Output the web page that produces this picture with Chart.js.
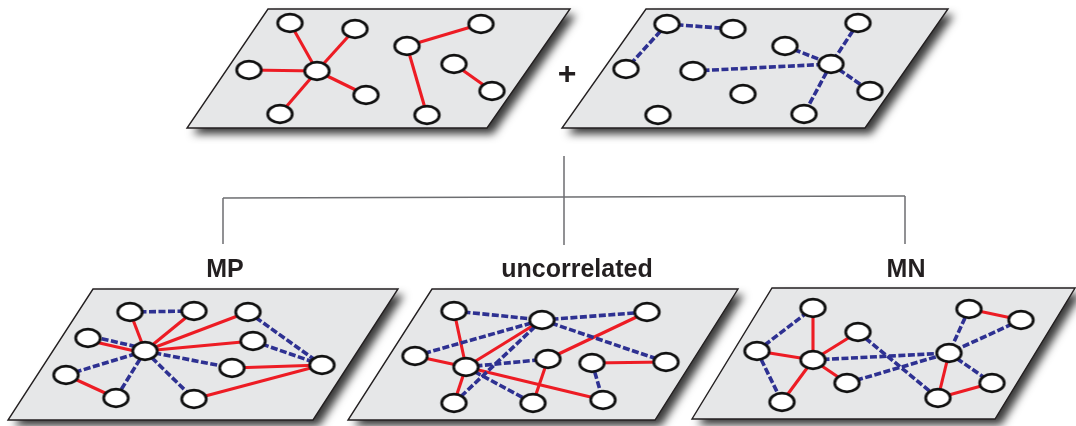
<!DOCTYPE html>
<html lang="en">
<head>
  <meta charset="UTF-8">
  <title>Multiplex network layers</title>
  <script src="https://cdn.jsdelivr.net/npm/chart.js"></script>
  <style>
    html, body { margin: 0; padding: 0; background: #ffffff; }
    #wrap { width: 1076px; height: 426px; }
  </style>
</head>
<body>
<div id="wrap"><canvas id="chartNet" width="1076" height="426"></canvas></div>

<script>
  // panel outlines (top-left, top-right, bottom-right, bottom-left)
  const panelRed   = [[268, 9], [570, 9], [487, 128], [187, 128]];
  const panelBlue  = [[646, 9], [948, 9], [865, 128], [562, 128]];
  const panelMP    = [[93, 289], [398, 289], [313, 420], [8, 420]];
  const panelUnc   = [[432, 289], [738, 289], [655, 420], [348, 420]];
  const panelMN    = [[772, 288], [1075, 288], [995, 419], [692, 419]];

  // node positions per panel
  const nodesRed  = [[290, 23], [355, 29], [249, 70], [317, 71], [366, 95], [280, 114], [407, 46], [481, 24], [454, 64], [492, 91], [427, 115]];
  const nodesBlue = [[667, 24], [733, 29], [626, 69], [693, 71], [785, 46], [858, 23], [831, 64], [870, 91], [743, 94], [658, 115], [804, 114]];
  const nodesMP   = [[130, 312], [194, 311], [248, 312], [88, 338], [253, 341], [145, 351], [322, 365], [232, 368], [66, 375], [116, 398], [194, 399]];
  const nodesUnc  = [[454, 311], [542, 320], [647, 312], [415, 356], [466, 367], [548, 359], [592, 363], [666, 362], [454, 403], [533, 403], [603, 400]];
  const nodesMN   = [[813, 308], [757, 351], [813, 360], [858, 332], [847, 383], [782, 402], [969, 309], [1021, 320], [949, 353], [992, 383], [938, 398]];

  // edges as node index pairs (red = solid layer, blue = dashed layer)
  const redEdgesTop  = [[3, 0], [3, 1], [3, 2], [3, 4], [3, 5], [6, 7], [6, 10], [8, 9]];
  const blueEdgesTop = [[0, 1], [0, 2], [3, 6], [4, 6], [5, 6], [6, 7], [6, 10]];
  const redEdgesMP   = [[5, 0], [5, 1], [5, 2], [5, 3], [5, 4], [8, 9], [7, 6], [10, 6]];
  const blueEdgesMP  = [[0, 1], [2, 6], [4, 6], [5, 3], [5, 8], [5, 9], [5, 7], [5, 10]];
  const redEdgesUnc  = [[0, 4], [3, 4], [4, 1], [4, 8], [5, 2], [5, 9], [4, 10], [6, 7]];
  const blueEdgesUnc = [[0, 1], [1, 2], [1, 7], [3, 1], [1, 8], [4, 5], [4, 9], [6, 10]];
  const redEdgesMN   = [[0, 2], [1, 2], [2, 3], [2, 4], [2, 5], [6, 7], [8, 10], [10, 9]];
  const blueEdgesMN  = [[1, 0], [1, 5], [2, 8], [4, 8], [3, 10], [6, 8], [7, 8], [8, 9]];

  // tree connecting the two layers to the three combinations
  const treeStem   = [[564, 156], [564, 245]];
  const treeBar    = [[223, 198], [905, 196]];
  const treeLeft   = [[223, 198], [223, 244]];
  const treeRight  = [[905, 196], [905, 244]];

  const labelText = ['MP', 'uncorrelated', 'MN'];
  const labelX    = [225, 577, 906];
  const labelY    = 277;

  const RED = '#ed1c24';
  const BLUE = '#2e3192';

  // white ellipse with black rim used as point style
  function makeNode(rx, ry) {
    const c = document.createElement('canvas');
    c.width = Math.ceil(rx * 2 + 6);
    c.height = Math.ceil(ry * 2 + 6);
    const g = c.getContext('2d');
    g.beginPath();
    g.ellipse(c.width / 2, c.height / 2, rx, ry, 0, 0, Math.PI * 2);
    g.fillStyle = '#ffffff';
    g.fill();
    g.lineWidth = 2.8;
    g.strokeStyle = '#111111';
    g.stroke();
    return c;
  }
  const nodeImg = makeNode(12.3, 8.8);

  const toPts = arr => arr.map(p => ({ x: p[0], y: p[1] }));

  function edgeSets(nodes, pairs, color, dashed, other) {
    return pairs.map(([a, b]) => {
      let p = nodes[a], q = nodes[b];
      // pairs linked in both layers are drawn side by side
      const twin = other.some(([c, d]) => (c === a && d === b) || (c === b && d === a));
      if (twin) {
        const dx = q[0] - p[0], dy = q[1] - p[1];
        const len = Math.hypot(dx, dy);
        const s = dashed ? 2.3 : -2.3;
        const ox = -dy / len * s, oy = dx / len * s;
        p = [p[0] + ox, p[1] + oy];
        q = [q[0] + ox, q[1] + oy];
      }
      return {
        data: toPts([p, q]),
        showLine: true,
        borderColor: color,
        borderWidth: dashed ? 3.6 : 3.1,
        borderDash: dashed ? [7, 2.5] : [],
        borderCapStyle: 'butt',
        pointRadius: 0,
        order: dashed ? 2 : 3
      };
    });
  }

  function treeSet(seg) {
    return {
      data: toPts(seg),
      showLine: true,
      borderColor: '#6d6e71',
      borderWidth: 1.5,
      pointRadius: 0,
      order: 5
    };
  }

  const layers = [
    [nodesRed, redEdgesTop, []],
    [nodesBlue, [], blueEdgesTop],
    [nodesMP, redEdgesMP, blueEdgesMP],
    [nodesUnc, redEdgesUnc, blueEdgesUnc],
    [nodesMN, redEdgesMN, blueEdgesMN]
  ];

  const datasets = [];
  [treeStem, treeBar, treeLeft, treeRight].forEach(s => datasets.push(treeSet(s)));
  layers.forEach(([nodes, red, blue]) => {
    datasets.push(...edgeSets(nodes, red, RED, false, blue));
    datasets.push(...edgeSets(nodes, blue, BLUE, true, red));
    datasets.push({
      data: toPts(nodes),
      pointStyle: nodeImg,
      pointRadius: 12,
      showLine: false,
      order: 0
    });
  });

  const panels = [panelRed, panelBlue, panelMP, panelUnc, panelMN];

  const panelPlugin = {
    id: 'panels',
    beforeDatasetsDraw(chart) {
      const { ctx, scales: { x, y } } = chart;
      panels.forEach(p => {
        ctx.save();
        ctx.beginPath();
        p.forEach(([px, py], i) => {
          const X = x.getPixelForValue(px), Y = y.getPixelForValue(py);
          if (i) ctx.lineTo(X, Y); else ctx.moveTo(X, Y);
        });
        ctx.closePath();
        ctx.shadowColor = 'rgba(0,0,0,0.78)';
        ctx.shadowBlur = 8;
        ctx.shadowOffsetX = 6;
        ctx.shadowOffsetY = 6;
        ctx.fillStyle = '#e6e7e8';
        ctx.fill();
        ctx.shadowColor = 'transparent';
        ctx.lineWidth = 1.4;
        ctx.strokeStyle = '#231f20';
        ctx.stroke();
        ctx.restore();
      });
    },
    afterDatasetsDraw(chart) {
      const { ctx, scales: { x, y } } = chart;
      ctx.save();
      ctx.fillStyle = '#231f20';
      ctx.textAlign = 'center';
      ctx.textBaseline = 'alphabetic';
      ctx.font = 'bold 25px "Liberation Sans", Arial, sans-serif';
      labelText.forEach((t, i) => {
        ctx.fillText(t, x.getPixelForValue(labelX[i]), y.getPixelForValue(labelY));
      });
      ctx.font = 'bold 32px "Liberation Sans", Arial, sans-serif';
      ctx.fillText('+', x.getPixelForValue(567), y.getPixelForValue(84));
      ctx.restore();
    }
  };

  new Chart(document.getElementById('chartNet'), {
    type: 'scatter',
    data: { datasets: datasets },
    options: {
      responsive: false,
      animation: false,
      events: [],
      layout: { padding: 0, autoPadding: false },
      clip: false,
      plugins: { legend: { display: false }, tooltip: { enabled: false } },
      scales: {
        x: { type: 'linear', min: 0, max: 1076, display: false },
        y: { type: 'linear', min: 0, max: 426, reverse: true, display: false }
      }
    },
    plugins: [panelPlugin]
  });
</script>
</body>
</html>
